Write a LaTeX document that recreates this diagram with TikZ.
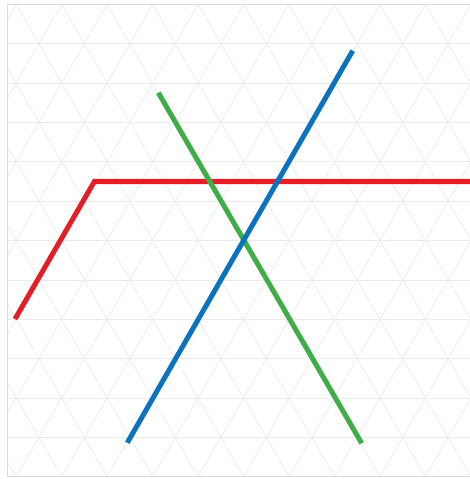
\documentclass[tikz,border=0pt]{standalone}
\begin{document}
\begin{tikzpicture}[x=1bp,y=-1bp,
  gridline/.style={draw=black!8,line width=0.7bp},
  frameline/.style={draw=black!13,line width=0.9bp},
  thick line/.style={line width=5bp,line cap=butt,line join=miter}]
\useasboundingbox (0,0) rectangle (470,479);
\fill[white] (0,0) rectangle (470,479);
\def\s{45.47}
\def\h{39.37}
\begin{scope}
  \clip (7,4.3) rectangle (472,476.7);
  \foreach \k in {1,...,11}
    \draw[gridline] (7,{4.3+\k*\h}) -- (472,{4.3+\k*\h});
  \foreach \j in {-12,...,22}{
    \draw[gridline] ({16.2+\j*\s},4.3) -- ({16.2+\j*\s+12*\s/2},{4.3+12*\h});
    \draw[gridline] ({16.2+\j*\s},4.3) -- ({16.2+\j*\s-12*\s/2},{4.3+12*\h});
  }
\end{scope}
\draw[frameline] (472,4.3) -- (7,4.3) -- (7,476.7) -- (472,476.7);
% coloured lines
\coordinate (r1) at (15,319);
\coordinate (r2) at (94.4,181.5);
\coordinate (r3) at (472,181.5);
\coordinate (b1) at (127.3,442.7);
\coordinate (b2) at (352.7,50.7);
\coordinate (g1) at (158.3,92.7);
\coordinate (g2) at (361.7,443.3);
\draw[thick line,draw={rgb,255:red,228;green,30;blue,38}] (r1) -- (r2) -- (r3);
\draw[thick line,draw={rgb,255:red,63;green,174;blue,73}] (g1) -- (g2);
\draw[thick line,draw={rgb,255:red,11;green,114;blue,189}] (b1) -- (b2);
\end{tikzpicture}
\end{document}
